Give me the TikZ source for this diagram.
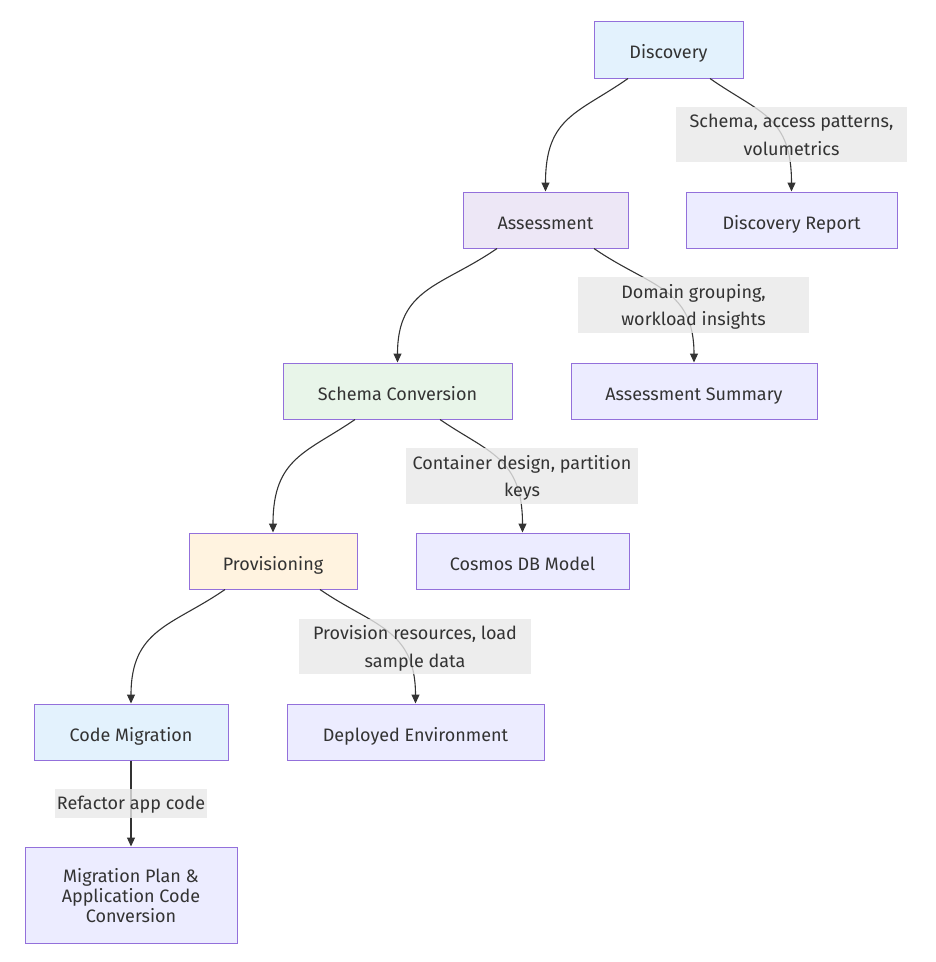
\documentclass[tikz,border=0pt]{standalone}
\usepackage{fontspec}
\setmainfont{Fira Sans}
\usetikzlibrary{arrows.meta}

\definecolor{inkgray}{HTML}{333333}
\definecolor{boxline}{HTML}{9370DB}
\definecolor{plainfill}{HTML}{ECECFF}
\definecolor{bluefill}{HTML}{E3F2FD}
\definecolor{lilacfill}{HTML}{EDE7F6}
\definecolor{greenfill}{HTML}{E8F5E9}
\definecolor{orangefill}{HTML}{FFF3E0}
\definecolor{labelfill}{HTML}{E8E8E8}

\begin{document}
\begin{tikzpicture}[x=1pt, y=-1pt,
    box/.style={draw=boxline, line width=1pt, fill=plainfill, text=inkgray,
        align=center, inner sep=0pt, text height=18.4pt, text depth=0pt,
        font=\fontsize{18}{20}\selectfont},
    edgelabel/.style={fill=labelfill, fill opacity=0.8, text opacity=1, text=inkgray,
        align=center, inner sep=0pt, text height=41.6pt, text depth=0pt,
        font=\fontsize{18}{27.6}\selectfont},
    flow/.style={draw=inkgray, line width=1.1pt, -{Triangle[length=9pt,width=8pt]}}]
    \useasboundingbox (0,0) rectangle (936,962);

    % Steps
    \node[box, fill=bluefill, minimum width=149pt, minimum height=57pt] (disc) at (668.5,49.5) {Discovery};
    \node[box, fill=lilacfill, minimum width=165pt, minimum height=56pt] (assess) at (545.5,220) {Assessment};
    \node[box, fill=greenfill, minimum width=229pt, minimum height=56pt] (schema) at (397.5,391) {Schema Conversion};
    \node[box, fill=orangefill, minimum width=168pt, minimum height=56pt] (prov) at (273,561) {Provisioning};
    \node[box, fill=bluefill, minimum width=194pt, minimum height=56pt] (codemig) at (131,732) {Code Migration};

    % Outputs
    \node[box, minimum width=211pt, minimum height=56pt] (discrep) at (791.5,220) {Discovery Report};
    \node[box, minimum width=246pt, minimum height=56pt] (summary) at (694,391) {Assessment Summary};
    \node[box, minimum width=213pt, minimum height=56pt] (cosmos) at (522.5,561) {Cosmos DB Model};
    \node[box, minimum width=257pt, minimum height=56pt] (deployed) at (415.5,732) {Deployed Environment};
    \node[box, minimum width=212pt, minimum height=96pt, text height=54pt] (plan) at (131,895) {Migration Plan \&\\Application Code\\Conversion};

    % Main chain
    \draw[flow] ([xshift=-40.5pt]disc.south) .. controls +(-50,35) and +(0,-75) .. (assess.north);
    \draw[flow] ([xshift=-48.5pt]assess.south) .. controls +(-55,38) and +(0,-75) .. (schema.north);
    \draw[flow] ([xshift=-42.5pt]schema.south) .. controls +(-48,33) and +(0,-75) .. (prov.north);
    \draw[flow] ([xshift=-48pt]prov.south) .. controls +(-52,36) and +(0,-75) .. (codemig.north);
    \draw[flow] (codemig) -- (plan);

    % Side outputs
    \draw[flow] ([xshift=41.5pt]disc.south) .. controls +(50,35) and +(0,-75) .. (discrep.north);
    \draw[flow] ([xshift=48.5pt]assess.south) .. controls +(55,38) and +(0,-75) .. (summary.north);
    \draw[flow] ([xshift=42.5pt]schema.south) .. controls +(48,33) and +(0,-75) .. (cosmos.north);
    \draw[flow] ([xshift=47pt]prov.south) .. controls +(52,36) and +(0,-75) .. (deployed.north);

    % Edge labels
    \node[edgelabel, minimum width=231pt, minimum height=55pt] (lbldisc) at (791.5,134.5) {Schema, access patterns,\\volumetrics};
    \node[edgelabel, minimum width=231pt, minimum height=56pt] (lblassess) at (693.5,305) {Domain grouping,\\workload insights};
    \node[edgelabel, minimum width=232pt, minimum height=56pt] (lblschema) at (522,476) {Container design, partition\\keys};
    \node[edgelabel, minimum width=232pt, minimum height=55pt] (lblprov) at (415,646.5) {Provision resources, load\\sample data};
    \node[edgelabel, minimum width=152pt, minimum height=29pt, text height=12pt] (lblcode) at (131,803.5) {Refactor app code};
\end{tikzpicture}
\end{document}
